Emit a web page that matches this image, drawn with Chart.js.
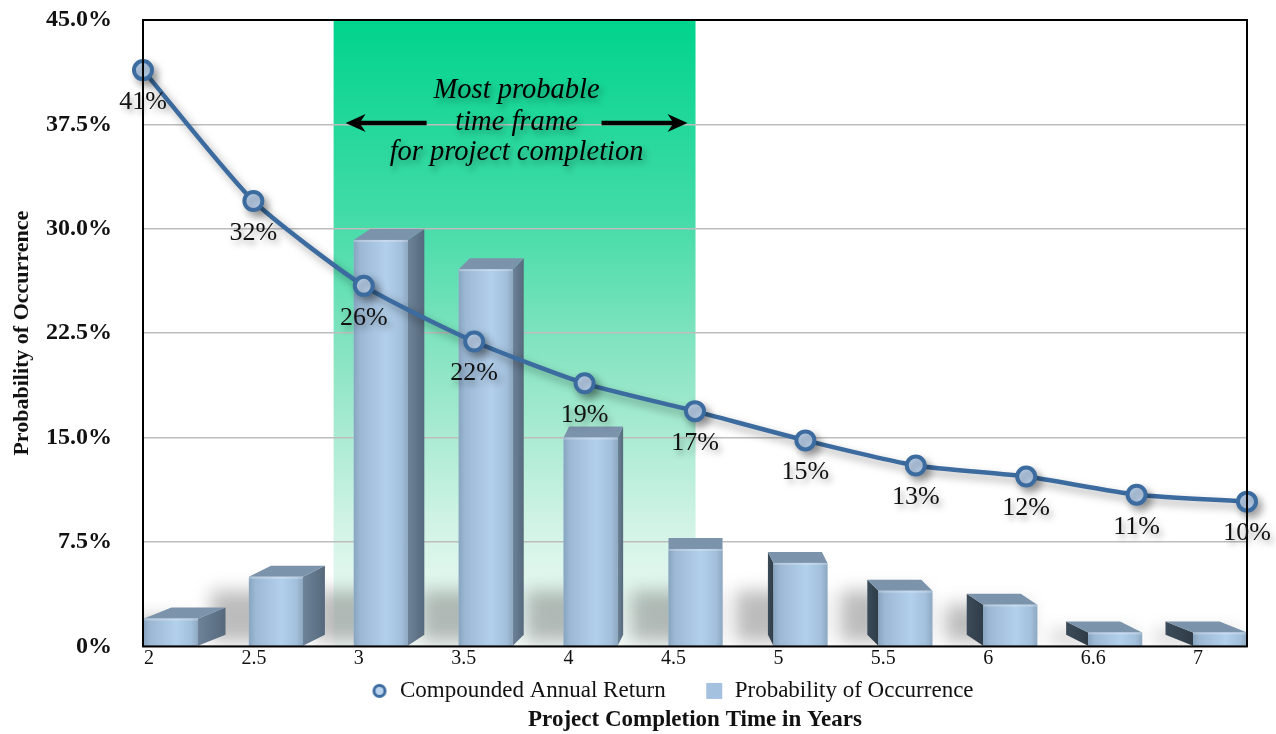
<!DOCTYPE html>
<html><head><meta charset="utf-8">
<script src="https://cdn.jsdelivr.net/npm/chart.js@4.4.0/dist/chart.umd.min.js"></script>
<style>html,body{margin:0;padding:0;background:#fff}#wrap{width:1276px;height:734px;position:relative}</style>
</head><body><div id="wrap"><canvas id="c" width="1276" height="734"></canvas></div>
<script>
const categories = ['2','2.5','3','3.5','4','4.5','5','5.5','6','6.6','7'];
const annualReturn = [41.4, 32.0, 25.9, 21.9, 18.9, 16.9, 14.8, 13.0, 12.2, 10.9, 10.4];
const returnLabels = ['41%','32%','26%','22%','19%','17%','15%','13%','12%','11%','10%'];
const probability = [2.0, 5.0, 29.2, 27.1, 15.0, 7.0, 6.0, 4.0, 3.0, 1.0, 1.0];
const yTickLabels = ['0%','7.5%','15.0%','22.5%','30.0%','37.5%','45.0%'];
const bandText = ['Most probable','time frame','for project completion'];
const bandFrom = '3', bandTo = '4.5';

const SERIF = '"Liberation Serif", "DejaVu Serif", serif';
const LINE_BLUE = '#3b6b9f';

function markerCanvas(kind){
  const c = document.createElement('canvas'); c.width = 18; c.height = 18;
  const g = c.getContext('2d');
  if (kind === 'circle') {
    g.beginPath(); g.arc(9, 9, 5.5, 0, Math.PI*2);
    g.fillStyle = '#bcd3ee'; g.fill(); g.lineWidth = 3; g.strokeStyle = LINE_BLUE; g.stroke();
  } else {
    g.fillStyle = '#a4c2df'; g.fillRect(1, 1, 16, 16);
  }
  return c;
}

const bandPlugin = {
  id: 'band',
  beforeDraw(chart){
    const {ctx, chartArea: a, scales} = chart;
    const xb = scales.xb;
    const x0 = xb.getPixelForValue(categories.indexOf(bandFrom) - 0.45);
    const x1 = xb.getPixelForValue(categories.indexOf(bandTo));
    const g = ctx.createLinearGradient(0, a.top, 0, a.bottom);
    g.addColorStop(0, '#00d48c'); g.addColorStop(0.3, '#3fdba6'); g.addColorStop(0.55, '#8ce5c4');
    g.addColorStop(0.8, '#cff3e4'); g.addColorStop(1, '#f5fcf9');
    ctx.save(); ctx.fillStyle = g; ctx.fillRect(x0, a.top, x1 - x0, a.bottom - a.top); ctx.restore();
  },
  beforeDatasetsDraw(chart){
    const {ctx, chartArea: a, scales} = chart;
    const xb = scales.xb, y = scales.y;
    const meta = chart.getDatasetMeta(1);
    ctx.save();
    ctx.beginPath(); ctx.rect(a.left, a.top, a.right - a.left, a.bottom - a.top); ctx.clip();
    ctx.filter = 'blur(9px)';
    meta.data.forEach(el => {
      const L = el.x - el.width/2, R = el.x + el.width/2;
      const top = Math.max(el.y, el.base - 55);
      ctx.fillStyle = 'rgba(70,70,70,0.36)';
      ctx.fillRect(L - 38, top, R - L + 30, el.base - 4 - top);
    });
    ctx.filter = 'none';
    ctx.restore();
    const x0 = xb.getPixelForValue(categories.indexOf(bandFrom) - 0.45);
    const x1 = xb.getPixelForValue(categories.indexOf(bandTo));
    const cx = (x0 + x1) / 2;
    ctx.save();
    ctx.font = 'italic 28.5px ' + SERIF;
    ctx.textAlign = 'center'; ctx.textBaseline = 'middle';
    ctx.fillStyle = '#000';
    ctx.shadowColor = 'rgba(0,0,0,0.35)'; ctx.shadowBlur = 6; ctx.shadowOffsetX = 3; ctx.shadowOffsetY = 4;
    const ys = [39.9, 37.65, 35.5].map(v => y.getPixelForValue(v));
    bandText.forEach((t, i) => ctx.fillText(t, cx + 2, ys[i]));
    const ay = y.getPixelForValue(37.6);
    const arrow = (tip, tail) => {
      const dir = Math.sign(tail - tip);
      ctx.beginPath(); ctx.moveTo(tail, ay); ctx.lineTo(tip + dir*12, ay);
      ctx.lineWidth = 4.5; ctx.strokeStyle = '#000'; ctx.stroke();
      ctx.beginPath(); ctx.moveTo(tip, ay); ctx.lineTo(tip + dir*20, ay - 9); ctx.lineTo(tip + dir*14, ay); ctx.lineTo(tip + dir*20, ay + 9); ctx.closePath();
      ctx.fillStyle = '#000'; ctx.fill();
    };
    ctx.shadowColor = 'rgba(0,0,0,0)';
    arrow(x0 + 12, x0 + 93);
    arrow(x1 - 8, x1 - 94);
    ctx.restore();
  }
};

const bar3d = {
  id: 'bar3d',
  beforeDatasetDraw(chart, args){
    if (args.meta.type === 'line') {
      const ctx = chart.ctx;
      ctx.shadowColor = 'rgba(0,0,0,0.35)'; ctx.shadowBlur = 8; ctx.shadowOffsetX = 4; ctx.shadowOffsetY = 5;
    }
  },
  afterDatasetDraw(chart, args){
    const ctx = chart.ctx;
    if (args.meta.type === 'line') {
      ctx.shadowColor = 'rgba(0,0,0,0)'; ctx.shadowBlur = 0; ctx.shadowOffsetX = 0; ctx.shadowOffsetY = 0;
      return;
    }
    if (args.meta.type !== 'bar') return;
    const n = args.meta.data.length, mid = (n - 1) / 2, depth = 27.5, dy = 11;
    ctx.save();
    args.meta.data.forEach((el, i) => {
      const L = el.x - el.width/2, R = el.x + el.width/2, T = el.y, B = el.base;
      const dx = depth * (mid - i) / mid;
      ctx.beginPath();
      if (dx > 0) {
        ctx.moveTo(R, T); ctx.lineTo(R + dx, T - dy); ctx.lineTo(R + dx, B - dy); ctx.lineTo(R, B);
        const g = ctx.createLinearGradient(R, 0, R + dx, 0);
        g.addColorStop(0, '#6d8399'); g.addColorStop(1, '#56697c');
        ctx.fillStyle = g;
      } else {
        ctx.moveTo(L, T); ctx.lineTo(L + dx, T - dy); ctx.lineTo(L + dx, B - dy); ctx.lineTo(L, B);
        const g = ctx.createLinearGradient(L + dx, 0, L, 0);
        g.addColorStop(0, '#3c4b59'); g.addColorStop(1, '#2f3c48');
        ctx.fillStyle = g;
      }
      ctx.closePath(); ctx.fill();
      ctx.beginPath();
      ctx.moveTo(L, T); ctx.lineTo(R, T); ctx.lineTo(R + dx, T - dy); ctx.lineTo(L + dx, T - dy); ctx.closePath();
      ctx.fillStyle = '#7b93ab'; ctx.fill();
      const f = ctx.createLinearGradient(L, 0, R, 0);
      f.addColorStop(0, '#88a5c0'); f.addColorStop(0.12, '#9cb8d4'); f.addColorStop(0.6, '#b2cfeb');
      f.addColorStop(0.88, '#a2bfdb'); f.addColorStop(1, '#8ea8c1');
      ctx.fillStyle = f; ctx.fillRect(L, T, R - L, B - T);
      ctx.fillStyle = 'rgba(255,255,255,0.25)'; ctx.fillRect(L, T, R - L, 2);
    });
    ctx.restore();
  },
  afterDatasetsDraw(chart){
    const {ctx, chartArea: a} = chart;
    ctx.save();
    ctx.strokeStyle = '#000'; ctx.lineWidth = 2;
    ctx.strokeRect(a.left, a.top, a.right - a.left, a.bottom - a.top);
    const meta = chart.getDatasetMeta(0);
    ctx.font = '26px ' + SERIF;
    ctx.textAlign = 'center'; ctx.textBaseline = 'middle';
    ctx.fillStyle = '#111';
    ctx.shadowColor = 'rgba(0,0,0,0.35)'; ctx.shadowBlur = 6; ctx.shadowOffsetX = 3; ctx.shadowOffsetY = 4;
    meta.data.forEach((p, i) => ctx.fillText(returnLabels[i], p.x, p.y + 32));
    ctx.restore();
  }
};

new Chart(document.getElementById('c'), {
  type: 'bar',
  data: {
    datasets: [
      {
        type: 'line', label: 'Compounded Annual Return', xAxisID: 'xl', yAxisID: 'y',
        data: annualReturn.map((v, i) => ({x: i, y: v})),
        borderColor: LINE_BLUE, borderWidth: 4.5, tension: 0.2, clip: false,
        pointRadius: 9, pointBorderWidth: 4, pointBorderColor: LINE_BLUE, pointBackgroundColor: '#bcd3ee',
        pointStyle: 'circle', order: 0
      },
      {
        label: 'Probability of Occurrence', xAxisID: 'xb', yAxisID: 'y',
        data: probability.map((v, i) => ({x: i, y: v})),
        backgroundColor: '#a4c2df', grouped: false, categoryPercentage: 1, barPercentage: 0.515,
        order: 1, pointStyle: 'rect'
      }
    ]
  },
  options: {
    responsive: false, animation: false, devicePixelRatio: 1,
    layout: {padding: {left: 0, right: 29, top: 20, bottom: 0}},
    plugins: {
      tooltip: {enabled: false},
      legend: {
        position: 'bottom', fullSize: false,
        labels: {
          usePointStyle: true, boxWidth: 18, boxHeight: 18, padding: 5,
          font: {family: SERIF, size: 23}, color: '#111',
          generateLabels(chart){
            const items = Chart.defaults.plugins.legend.labels.generateLabels(chart);
            items[0].pointStyle = markerCanvas('circle');
            items[0].text = items[0].text + '\u2002\u2002\u2002';
            items[1].pointStyle = markerCanvas('rect');
            items[1].text = items[1].text + '\u2002\u2002\u2002\u2002';
            return items;
          }
        }
      },
      title: {
        display: true, position: 'bottom', fullSize: false, text: 'Project Completion Time in Years',
        font: {family: SERIF, size: 23, weight: 'bold'}, color: '#111', padding: {top: -6, bottom: 0}
      }
    },
    scales: {
      xb: {
        type: 'linear', position: 'bottom', min: -0.267, max: 10.257, offset: false,
        afterBuildTicks(s){ s.ticks = categories.map((c, i) => ({value: i})); },
        ticks: {
          autoSkip: false, maxRotation: 0, padding: 0, color: '#111', labelOffset: -22,
          font: {family: SERIF, size: 20},
          callback: (v) => categories[Math.round(v)]
        },
        grid: {display: false, drawTicks: false}, border: {display: false},
        afterFit(s){ s.height = 28; }
      },
      xl: {type: 'linear', display: false, min: 0, max: 10, offset: false},
      y: {
        min: 0, max: 45,
        afterBuildTicks(s){ s.ticks = yTickLabels.map((t, i) => ({value: i * 7.5})); },
        ticks: {
          padding: 3, color: '#111', font: {family: SERIF, size: 24, weight: 'bold'},
          callback: (v, i) => yTickLabels[i]
        },
        grid: {color: '#bdbdbd', lineWidth: 1.5, drawTicks: true, tickLength: 28, tickColor: 'rgba(0,0,0,0)'},
        border: {display: false},
        title: {
          display: true, text: 'Probability of Occurrence', color: '#111',
          font: {family: SERIF, size: 22, weight: 'bold'}, padding: {top: 9, bottom: 0}
        },
        afterFit(s){ s.width = 143; }
      }
    }
  },
  plugins: [bandPlugin, bar3d]
});
</script>
</body></html>
